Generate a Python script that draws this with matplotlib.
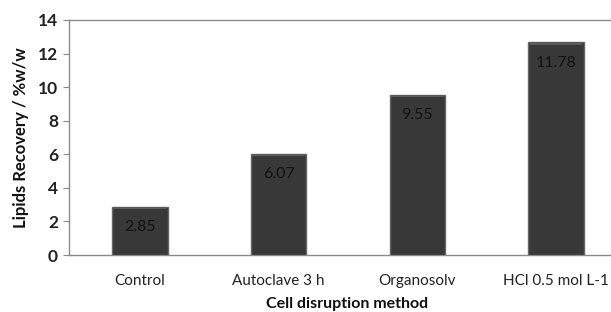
import matplotlib
matplotlib.use("Agg")
import matplotlib.pyplot as plt

categories = ["Control", "Autoclave 3 h", "Organosolv", "HCl 0.5 mol L-1"]
bar_heights = [2.85, 6.02, 9.53, 12.66]
bar_labels = ["2.85", "6.07", "9.55", "11.78"]
y_ticks = [0, 2, 4, 6, 8, 10, 12, 14]

plt.rcParams['font.family'] = ['Lato', 'DejaVu Sans']

fig = plt.figure(figsize=(6.11, 3.12), dpi=100)
ax = fig.add_axes([69/611, 57/312, (625.5-69)/611, (255-20)/312])

x = list(range(len(categories)))
ax.bar(x, bar_heights, width=0.4, color="#383838", edgecolor="#666666", linewidth=1.0, zorder=3)
# subtle top bevel highlight
ax.bar(x, [0.12]*4, bottom=[h - 0.12 for h in bar_heights], width=0.38, color="#5a5a5a", linewidth=0, zorder=3.5)
for xi, h, lab in zip(x, bar_heights, bar_labels):
    ax.text(xi, h - 1.2, lab, ha="center", va="center", fontsize=11.5, color="#111111", zorder=4)

ax.set_xlim(-0.51, 3.5)
ax.set_ylim(0, 14)
ax.set_yticks(y_ticks)
ax.set_xticks(x)
ax.set_xticklabels(categories, fontsize=11, color="#222222")
ax.tick_params(axis='y', labelsize=12.5, colors="#222222", length=4, color="#888888", width=0.8, pad=4)
ax.tick_params(axis='x', length=0, pad=14)
for lab in ax.get_yticklabels():
    lab.set_fontweight('bold')

for s in ['left', 'bottom', 'top']:
    ax.spines[s].set_color("#8a8a8a")
    ax.spines[s].set_linewidth(1.0)
ax.spines['right'].set_visible(False)

ax.set_ylabel("Lipids Recovery / %w/w", fontsize=12, fontweight='bold', color="#111111", labelpad=6)
ax.set_xlabel("Cell disruption method", fontsize=11.5, fontweight='bold', color="#111111", labelpad=6)

fig.savefig("out.png", dpi=100)
